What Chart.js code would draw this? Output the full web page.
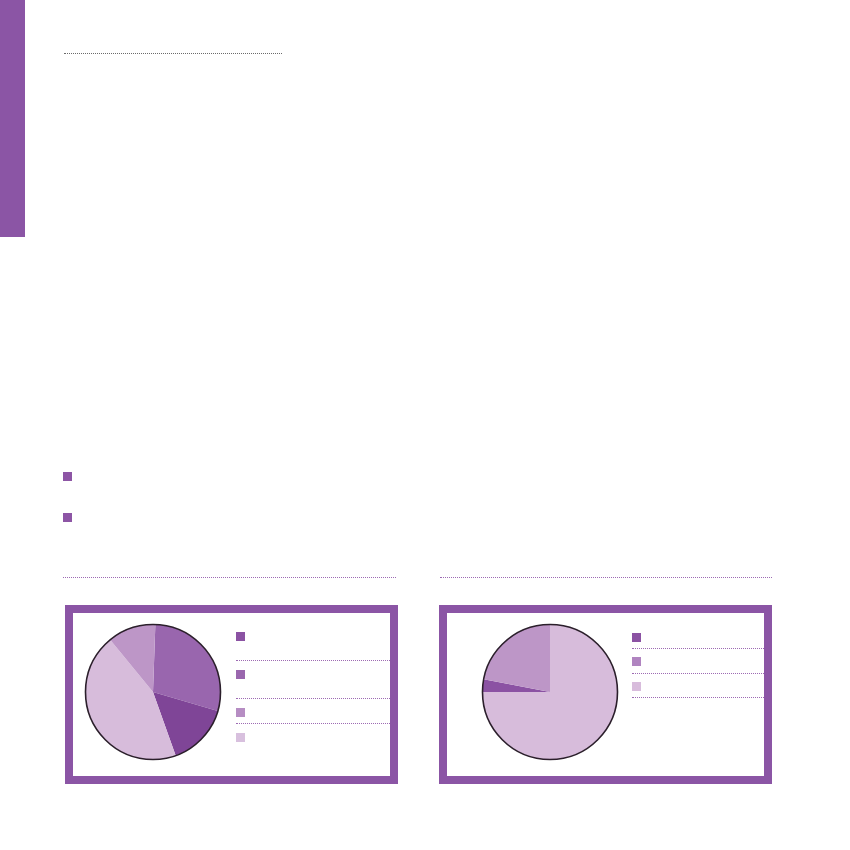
<!DOCTYPE html>
<html>
<head>
<meta charset="utf-8">
<script src="https://cdn.jsdelivr.net/npm/chart.js@4"></script>
<style>
  html, body { margin: 0; padding: 0; background: #fff; }
  body { width: 850px; height: 850px; position: relative; overflow: hidden; font-family: "Noto Sans", sans-serif; }
  .abs { position: absolute; }
  .sidebar { left: 0; top: 0; width: 25px; height: 237px; background: #8b55a5; }
  .rule-grey { height: 0; border-top: 1.5px dotted #6b6b6b; }
  .rule-purple { height: 0; border-top: 1.5px dotted #9d6bb3; }
  .bullet { width: 9px; height: 9px; background: #8d55a5; }
  .frame { border: 8px solid #8b55a5; box-sizing: border-box; width: 333px; height: 179px; top: 605px; }
  .pie-box { width: 140px; height: 140px; }
  .sq { width: 9px; height: 9px; }
</style>
</head>
<body>
<div class="abs sidebar"></div>
<div class="abs rule-grey" style="left:64px; top:53px; width:218px;"></div>

<div class="abs bullet" style="left:63px; top:472px;"></div>
<div class="abs bullet" style="left:63px; top:513px;"></div>

<div class="abs rule-purple" style="left:63px; top:577px; width:333px;"></div>
<div class="abs rule-purple" style="left:440px; top:577px; width:332px;"></div>

<div class="abs frame" style="left:65px;"></div>
<div class="abs frame" style="left:439px;"></div>

<div class="abs pie-box" style="left:83px; top:622px;"><canvas id="pieLeft"></canvas></div>
<div class="abs pie-box" style="left:480px; top:622px;"><canvas id="pieRight"></canvas></div>

<div id="legendLeft"></div>
<div id="legendRight"></div>

<script>
// Dữ liệu biểu đồ trái (theo chiều kim đồng hồ từ đỉnh)
const leftValues = [29, 15, 44.5, 11.5];
const leftColors = ["#9966ae", "#7f4597", "#d7bcdb", "#bd96c7"];
const leftLegendColors = ["#8b52a3", "#9a67ae", "#b68dc3", "#d8c0de"];

// Dữ liệu biểu đồ phải
const rightValues = [75, 3, 22];
const rightColors = ["#d7bcdb", "#8b52a3", "#bd96c7"];
const rightLegendColors = ["#8b52a3", "#b084c0", "#d8bcdc"];

// Vẽ viền tròn ngoài của bánh
const outlinePlugin = {
    id: "outline",
    afterDatasetsDraw(chart) {
        const arc = chart.getDatasetMeta(0).data[0];
        if (!arc) return;
        const ctx = chart.ctx;
        ctx.save();
        ctx.beginPath();
        ctx.arc(arc.x, arc.y, arc.outerRadius, 0, Math.PI * 2);
        ctx.lineWidth = 1.6;
        ctx.strokeStyle = "#2b1f2b";
        ctx.stroke();
        ctx.restore();
    }
};

function createPie(id, values, colors, rotation) {
    const ctx = document.getElementById(id).getContext("2d");
    return new Chart(ctx, {
        type: "pie",
        data: {
            labels: values.map(() => ""),
            datasets: [{
                data: values,
                backgroundColor: colors,
                borderWidth: 0
            }]
        },
        options: {
            responsive: true,
            maintainAspectRatio: false,
            animation: false,
            rotation: rotation,
            layout: { padding: 2.5 },
            plugins: {
                legend: { display: false },
                tooltip: { enabled: false }
            }
        },
        plugins: [outlinePlugin]
    });
}

// Chú thích dạng ô vuông và đường chấm
function buildLegend(containerId, colors, squareTops, lineTops, left, lineWidth) {
    const box = document.getElementById(containerId);
    colors.forEach((c, i) => {
        const sq = document.createElement("div");
        sq.className = "abs sq";
        sq.style.left = left + "px";
        sq.style.top = squareTops[i] + "px";
        sq.style.background = c;
        box.appendChild(sq);
    });
    lineTops.forEach(t => {
        const ln = document.createElement("div");
        ln.className = "abs rule-purple";
        ln.style.left = left + "px";
        ln.style.top = t + "px";
        ln.style.width = lineWidth + "px";
        box.appendChild(ln);
    });
}

createPie("pieLeft", leftValues, leftColors, 2);
createPie("pieRight", rightValues, rightColors, 0);

buildLegend("legendLeft", leftLegendColors, [632, 670, 708, 733], [660, 698, 723], 236, 154);
buildLegend("legendRight", rightLegendColors, [633, 657, 682], [648, 673, 697], 632, 132);
</script>
</body>
</html>
